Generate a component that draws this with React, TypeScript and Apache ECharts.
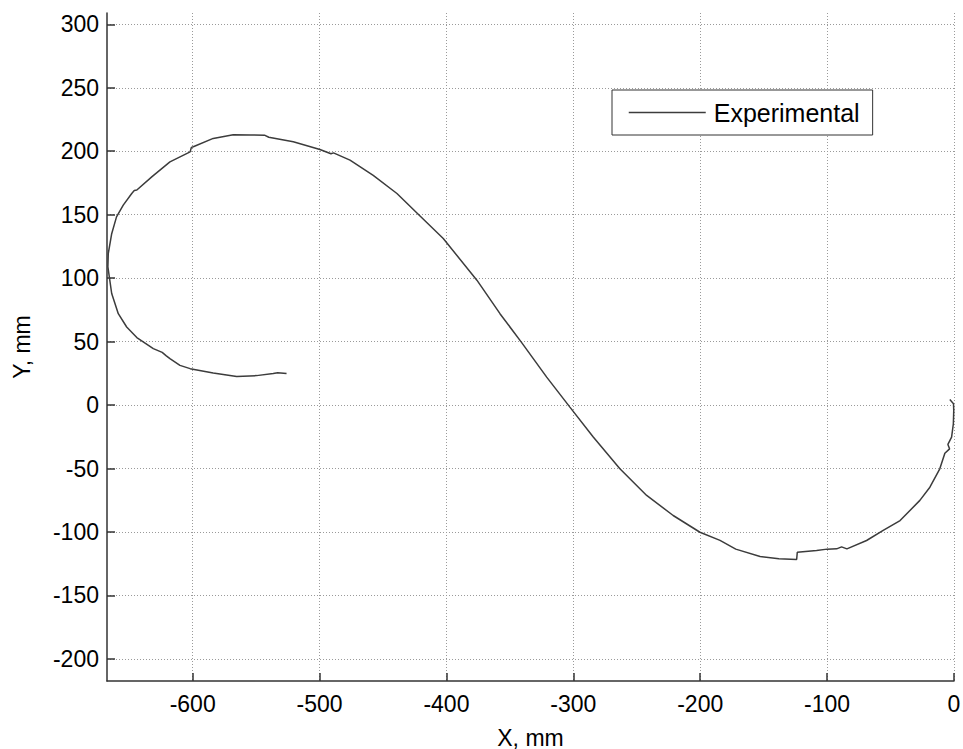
import React, { useEffect, useRef } from "react";
import * as echarts from "echarts";

// Axis ranges and ticks
const X_MIN = -667.5;
const X_MAX = 0;
const Y_MIN = -217.4;
const Y_MAX = 308.9;
const xTicks = [-600, -500, -400, -300, -200, -100, 0];
const yTicks = [-200, -150, -100, -50, 0, 50, 100, 150, 200, 250, 300];

const seriesName = "Experimental";

// Trajectory, in mm
const trajX = [
  -3.3, -0.4, -0.2, -0.5, -1.9, -4.8, -3.5, -7.2, -11.2, -19, -26.9, -42.5, -55.8,
  -68.9, -84.4, -88.6, -92.5, -100, -108.3, -123.5, -124, -138, -152.8, -172,
  -184.4, -200.2, -221.3, -242.2, -263.3, -284.3, -302.7, -321, -340.7, -357.8,
  -376, -402.5, -421, -439, -457.7, -476, -489, -491, -499.7, -520.7, -540, -543,
  -554.7, -568, -583.8, -599.5, -601, -602, -617.9, -632, -644, -646, -648, -654.7,
  -660, -663.8, -666.5, -666.8, -663.8, -658.6, -652, -644, -631, -624, -621,
  -617.9, -610, -602, -583.8, -565.3, -549.6, -536.5, -533, -526,
];
const trajY = [
  4.3, 1.1, -4.2, -14.7, -25.2, -31, -34.5, -38, -50.2, -64.7, -75.1, -91, -98.8,
  -106.7, -113.3, -111.7, -113.3, -113.5, -114.6, -116, -121.7, -121, -119.3, -113.5,
  -106.6, -100.2, -87, -71.2, -50.2, -25.2, -1.6, 22, 49.2, 72, 98.4, 131.2, 149.2,
  166.7, 181, 193, 198.7, 198, 201.4, 207.4, 211, 212.5, 212.8, 213, 210.1, 203.5,
  203, 199.5, 191.6, 180, 169.4, 169, 166.7, 157.5, 148.3, 135, 119.4, 108.8, 87.9,
  72, 61.5, 53.2, 44.5, 41.5, 39, 36.6, 31.3, 28.7, 25.2, 22.6, 23.2, 24.8, 25.5, 24.8,
];

const FONT = "'Liberation Sans', Arial, Helvetica, sans-serif";
const AXIS_COLOR = "#333333";
const GRID_COLOR = "#9a9a9a";
const TICK_FONT = 23;

export default function App() {
  const ref = useRef<HTMLDivElement>(null);

  useEffect(() => {
    if (!ref.current) return;
    const chart = echarts.init(ref.current, null, { renderer: "svg" });
    const data = trajX.map((x, i) => [x, trajY[i]]);
    chart.setOption({
      animation: false,
      backgroundColor: "#ffffff",
      grid: {
        left: 107,
        right: 9,
        top: 13,
        bottom: 68,
        containLabel: false,
        outerBoundsMode: "none",
      },
      legend: {
        data: [seriesName],
        left: 612,
        top: 90,
        padding: [10, 13, 10, 16],
        itemWidth: 77,
        itemHeight: 14,
        borderColor: AXIS_COLOR,
        borderWidth: 1,
        backgroundColor: "#ffffff",
        itemStyle: { opacity: 0 },
        lineStyle: { color: "#3c3c3c", width: 1.5 },
        textStyle: { fontSize: 25, color: "#000", fontFamily: FONT, padding: [0, 0, 0, 3] },
      },
      xAxis: {
        type: "value",
        min: X_MIN,
        max: X_MAX,
        splitNumber: 6,
        name: "X, mm",
        nameLocation: "middle",
        nameGap: 45,
        nameTextStyle: { fontSize: TICK_FONT, color: "#000", fontFamily: FONT },
        axisLine: { show: true, onZero: false, lineStyle: { color: AXIS_COLOR, width: 1.5 } },
        axisTick: {
          show: true,
          inside: true,
          length: 8,
          customValues: xTicks,
          lineStyle: { color: AXIS_COLOR, width: 1.5 },
        },
        axisLabel: {
          customValues: xTicks,
          margin: 11,
          fontSize: TICK_FONT,
          color: "#000",
          fontFamily: FONT,
        },
        splitLine: { show: true, lineStyle: { type: [1, 2], color: GRID_COLOR, width: 1 } },
      },
      yAxis: {
        type: "value",
        min: Y_MIN,
        max: Y_MAX,
        splitNumber: 10,
        name: "Y, mm",
        nameLocation: "middle",
        nameGap: 74,
        nameTextStyle: { fontSize: TICK_FONT, color: "#000", fontFamily: FONT },
        axisLine: { show: true, onZero: false, lineStyle: { color: AXIS_COLOR, width: 1.5 } },
        axisTick: {
          show: true,
          inside: true,
          length: 8,
          customValues: yTicks,
          lineStyle: { color: AXIS_COLOR, width: 1.5 },
        },
        axisLabel: {
          customValues: yTicks,
          margin: 8,
          fontSize: TICK_FONT,
          color: "#000",
          fontFamily: FONT,
        },
        splitLine: { show: true, lineStyle: { type: [1, 2], color: GRID_COLOR, width: 1 } },
      },
      series: [
        {
          name: seriesName,
          type: "line",
          data,
          symbol: "none",
          clip: true,
          lineStyle: { color: "#3c3c3c", width: 1.5 },
          itemStyle: { color: "#3c3c3c" },
        },
      ],
    });
    return () => chart.dispose();
  }, []);

  return (
    <div
      ref={ref}
      style={{ position: "fixed", left: 0, top: 0, width: 963, height: 749, background: "#fff" }}
    />
  );
}
